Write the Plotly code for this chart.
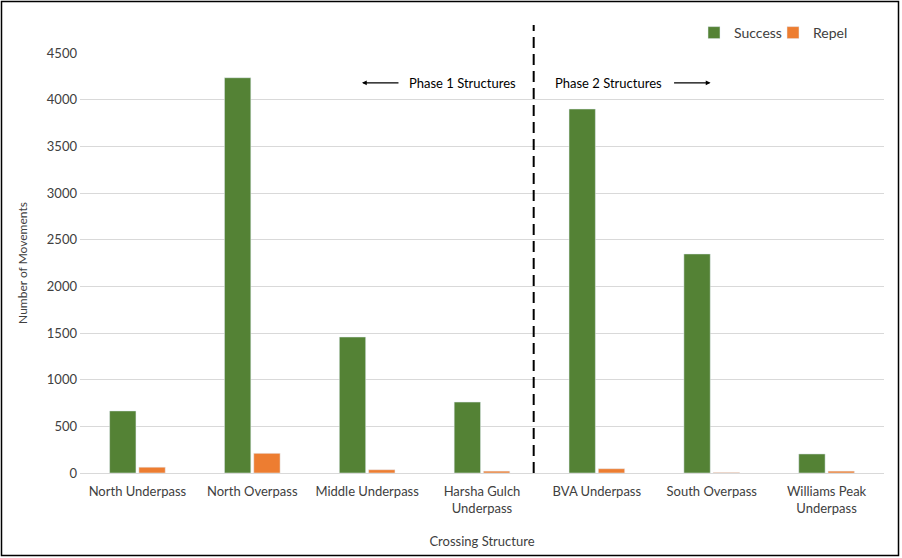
import plotly.graph_objects as go

structures = [
    "North Underpass", "North Overpass", "Middle Underpass",
    "Harsha Gulch<br>Underpass", "BVA Underpass", "South Overpass",
    "Williams Peak<br>Underpass",
]
success = [665, 4235, 1457, 760, 3900, 2347, 204]
repel = [62, 211, 35, 20, 46, 6, 20]
y_ticks = [0, 500, 1000, 1500, 2000, 2500, 3000, 3500, 4000, 4500]

W, H = 902, 558
ML, MR, MT, MB = 80, 18, 53, 85
font = "Lato, 'Open Sans', sans-serif"

fig = go.Figure()
fig.add_trace(go.Bar(x=structures, y=success, name="Success", marker_color="#548235"))
fig.add_trace(go.Bar(x=structures, y=repel, name="Repel", marker_color="#ED7D31"))

pw, ph = W - ML - MR, H - MT - MB

shapes = [
    # outer frame
    dict(type="rect", xref="paper", yref="paper",
         x0=-(ML - 1.5) / pw, x1=1 + (MR - 3.5) / pw,
         y0=-(MB - 2.5) / ph, y1=1 + (MT - 1.5) / ph,
         line=dict(color="black", width=1.5)),
    # phase divider
    dict(type="line", xref="x", yref="paper", x0=3.45, x1=3.45,
         y0=0, y1=(H - MB - 25) / ph,
         line=dict(color="black", width=2, dash="11px,6px")),
]

annotations = [
    dict(x=2.83, y=4180, text="Phase 1 Structures", showarrow=False,
         font=dict(size=13, color="black")),
    dict(x=4.105, y=4180, text="Phase 2 Structures", showarrow=False,
         font=dict(size=13, color="black")),
    dict(x=1.955, y=4180, ax=38, ay=0, text="", showarrow=True,
         arrowhead=2, arrowsize=0.8, arrowwidth=1.2, arrowcolor="black"),
    dict(x=4.99, y=4180, ax=-38, ay=0, text="", showarrow=True,
         arrowhead=2, arrowsize=0.8, arrowwidth=1.2, arrowcolor="black"),
]

fig.update_layout(
    width=W, height=H,
    margin=dict(l=ML, r=MR, t=MT, b=MB, autoexpand=False),
    paper_bgcolor="white", plot_bgcolor="white",
    font=dict(family=font, size=13, color="#404040"),
    barmode="group", bargap=0.49, bargroupgap=0.1,
    legend=dict(orientation="h", xref="container", yref="container",
                x=694 / W, y=1 - 33 / H, xanchor="left", yanchor="middle",
                font=dict(size=14, color="#404040"), itemwidth=30,
                entrywidth=34, entrywidthmode="pixels",
                traceorder="normal"),
    shapes=shapes,
    annotations=annotations,
)
fig.update_xaxes(
    title=dict(text="Crossing Structure", font=dict(size=13, color="#404040"), standoff=22),
    showgrid=False, showline=True, linecolor="#d9d9d9", ticks="",
    ticklabelstandoff=6, range=[-0.5, 6.5], automargin=False,
)
fig.update_yaxes(
    title=dict(text="Number of Movements", font=dict(size=12, color="#404040"), standoff=16),
    range=[0, 4500], tickvals=y_ticks, showgrid=True, gridcolor="#d9d9d9",
    zeroline=False, ticks="", showline=False, ticklabelstandoff=2, automargin=False,
)

# drop the browser's default body margin so the figure fills the window
fig.write_html("out.html", config={"displayModeBar": False},
               post_script="document.body.style.margin='0';")
